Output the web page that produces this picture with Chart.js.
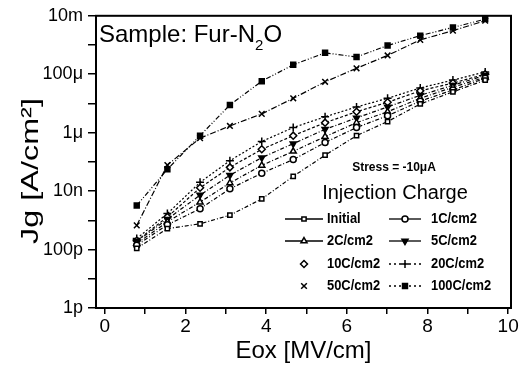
<!DOCTYPE html>
<html>
<head>
<meta charset="utf-8">
<script src="https://cdn.jsdelivr.net/npm/chart.js@4.4.0/dist/chart.umd.min.js"></script>
<style>
html, body { margin: 0; padding: 0; background: #fff; }
#wrap { width: 527px; height: 372px; position: relative; }
</style>
</head>
<body>
<div id="wrap"><canvas id="chart" width="527" height="372"></canvas></div>
<script>
// Gate current vs oxide field
const eox = [0.79, 1.55, 2.36, 3.10, 3.89, 4.67, 5.46, 6.24, 7.01, 7.82, 8.63, 9.43];

const seriesLabels = ['Initial', '1C/cm2', '2C/cm2', '5C/cm2', '10C/cm2', '20C/cm2', '50C/cm2', '100C/cm2'];

const jgInitial = [1.1e-10, 5.2e-10, 7.6e-10, 1.5e-9, 5.4e-9, 3.2e-8, 1.7e-7, 7.9e-7, 2.4e-6, 9.6e-6, 2.5e-5, 6.3e-5];
const jg1C      = [1.4e-10, 7.0e-10, 2.5e-9, 1.2e-8, 4.1e-8, 1.2e-7, 4.6e-7, 1.5e-6, 3.8e-6, 1.2e-5, 2.9e-5, 7.3e-5];
const jg2C      = [1.6e-10, 8.9e-10, 4.2e-9, 1.9e-8, 7.6e-8, 2.3e-7, 7.3e-7, 2.2e-6, 5.2e-6, 1.5e-5, 3.6e-5, 7.9e-5];
const jg5C      = [1.9e-10, 1.1e-9, 7.3e-9, 3.5e-8, 1.4e-7, 4.2e-7, 1.3e-6, 3.2e-6, 7.6e-6, 1.9e-5, 4.2e-5, 9.2e-5];
const jg10C     = [2.0e-10, 1.3e-9, 1.3e-8, 6.5e-8, 2.7e-7, 7.9e-7, 2.2e-6, 5.2e-6, 1.1e-5, 2.7e-5, 5.0e-5, 1.0e-4];
const jg20C     = [2.4e-10, 1.7e-9, 2.0e-8, 1.1e-7, 5.0e-7, 1.5e-6, 3.5e-6, 7.6e-6, 1.5e-5, 3.4e-5, 6.3e-5, 1.2e-4];
const jg50C     = [6.7e-10, 7.8e-8, 6.5e-7, 1.7e-6, 4.4e-6, 1.5e-5, 5.5e-5, 1.6e-4, 4.4e-4, 1.5e-3, 3.1e-3, 6.8e-3];
const jg100C    = [3.2e-9, 5.6e-8, 7.9e-7, 8.9e-6, 5.8e-5, 2.1e-4, 5.4e-4, 3.9e-4, 9.6e-4, 2.1e-3, 4.0e-3, 7.7e-3];

const allSeries = [jgInitial, jg1C, jg2C, jg5C, jg10C, jg20C, jg50C, jg100C];

const yTickValues = [1e-12, 1e-10, 1e-8, 1e-6, 1e-4, 1e-2];
const yTickLabels = ['1p', '100p', '10n', '1\u03bc', '100\u03bc', '10m'];
const xTickLabels = ['0', '2', '4', '6', '8', '10'];

const FONT = "'Liberation Sans', Arial, Helvetica, sans-serif";

// marker / line look of each series
const styles = [
    { pointStyle: 'rect',     rotation: 0,   fill: '#fff', radius: 3,   dash: [4, 2, 1, 2],       legendLine: 'solid' },
    { pointStyle: 'circle',   rotation: 0,   fill: '#fff', radius: 3,   dash: [4, 2, 1, 2],       legendLine: 'solid' },
    { pointStyle: 'triangle', rotation: 0,   fill: '#fff', radius: 3.5, dash: [4, 2, 1, 2],       legendLine: 'solid' },
    { pointStyle: 'triangle', rotation: 180, fill: '#000', radius: 3.5, dash: [4, 2, 1, 2],       legendLine: 'solid' },
    { pointStyle: 'rectRot',  rotation: 0,   fill: '#fff', radius: 3.5, dash: [3, 2],             legendLine: 'none' },
    { pointStyle: 'cross',    rotation: 0,   fill: '#000', radius: 4,   dash: [2, 2],             legendLine: 'dot' },
    { pointStyle: 'crossRot', rotation: 0,   fill: '#000', radius: 4,   dash: [6, 2, 1, 2],       legendLine: 'none' },
    { pointStyle: 'rect',     rotation: 0,   fill: '#000', radius: 3.5, dash: [5, 2, 1, 2, 1, 2], legendLine: 'dot' }
];

const datasets = allSeries.map((vals, i) => ({
    label: seriesLabels[i],
    data: eox.map((x, j) => ({ x: x, y: vals[j] })),
    borderColor: '#000',
    borderWidth: 1.2,
    borderDash: styles[i].dash,
    backgroundColor: styles[i].fill,
    pointStyle: styles[i].pointStyle,
    rotation: styles[i].rotation,
    pointRadius: styles[i].radius,
    pointBorderWidth: 1.5,
    pointBorderColor: '#000',
    pointBackgroundColor: styles[i].fill,
    fill: false,
    tension: 0
}));

// plot frame
const frame = {
    id: 'frame',
    afterDatasetsDraw(chart) {
        const a = chart.chartArea;
        const ctx = chart.ctx;
        ctx.save();
        ctx.strokeStyle = '#000';
        ctx.lineWidth = 2;
        ctx.strokeRect(a.left, a.top, a.right - a.left, a.bottom - a.top);
        ctx.restore();
    }
};

// title, y axis title, stress note and the 2-column legend inside the plot
const annotations = {
    id: 'annotations',
    afterDraw(chart) {
        const ctx = chart.ctx;
        ctx.save();
        ctx.fillStyle = '#000';
        ctx.strokeStyle = '#000';

        ctx.textAlign = 'left';
        ctx.textBaseline = 'alphabetic';
        ctx.font = `24px ${FONT}`;
        const head = 'Sample: Fur-N';
        ctx.fillText(head, 99, 42);
        const w1 = ctx.measureText(head).width;
        ctx.font = `15px ${FONT}`;
        ctx.fillText('2', 99 + w1, 50);
        const w2 = ctx.measureText('2').width;
        ctx.font = `24px ${FONT}`;
        ctx.fillText('O', 99 + w1 + w2, 42);

        // y axis title, the scan stretches it along its baseline
        ctx.save();
        ctx.translate(31, 171);
        ctx.rotate(-Math.PI / 2);
        ctx.scale(1.35, 1);
        ctx.textAlign = 'center';
        ctx.textBaseline = 'middle';
        ctx.font = `24px ${FONT}`;
        ctx.fillText('Jg [A/cm\u00b2]', 0, 0);
        ctx.restore();

        ctx.textAlign = 'center';
        ctx.font = `bold 12px ${FONT}`;
        ctx.fillText('Stress = -10\u03bcA', 394, 171);
        ctx.font = `20px ${FONT}`;
        ctx.fillText('Injection Charge', 395, 199);

        const rowY = [219, 241, 264, 286];
        const lineX = [[285, 323], [389, 421]];
        const markX = [304, 405];
        const textX = [327, 431];
        ctx.textAlign = 'left';
        ctx.textBaseline = 'middle';
        seriesLabels.forEach((label, i) => {
            const col = i % 2, row = Math.floor(i / 2);
            const y = rowY[row];
            const st = styles[i];
            ctx.lineWidth = 1.3;
            if (st.legendLine !== 'none') {
                ctx.setLineDash(st.legendLine === 'dot' ? [2, 3] : []);
                ctx.beginPath();
                ctx.moveTo(lineX[col][0], y);
                ctx.lineTo(lineX[col][1], y);
                ctx.stroke();
                ctx.setLineDash([]);
            }
            ctx.fillStyle = st.fill;
            ctx.lineWidth = 1.5;
            Chart.helpers.drawPoint(ctx, {
                pointStyle: st.pointStyle, rotation: st.rotation,
                radius: st.radius, borderWidth: 1.5
            }, markX[col], y);
            ctx.fillStyle = '#000';
            ctx.font = `bold 15px ${FONT}`;
            const w = ctx.measureText(label).width;
            ctx.fillText(label, textX[col], y, w * 0.86);
        });
        ctx.restore();
    }
};

new Chart(document.getElementById('chart'), {
    type: 'line',
    data: { datasets: datasets },
    options: {
        responsive: false,
        animation: false,
        layout: { padding: { top: 14, right: 16, left: 0, bottom: 0 } },
        plugins: {
            legend: { display: false },
            tooltip: { enabled: false }
        },
        scales: {
            x: {
                type: 'linear',
                min: -0.22,
                max: 10.07,
                afterFit: scale => { scale.height = 64; },
                afterBuildTicks: scale => {
                    const t = [];
                    for (let v = 0; v <= 10; v++) t.push({ value: v });
                    scale.ticks = t;
                },
                ticks: {
                    color: '#000',
                    padding: 1,
                    font: { family: FONT, size: 19 },
                    callback: v => {
                        const i = xTickLabels.indexOf(String(v));
                        return i >= 0 ? xTickLabels[i] : '';
                    }
                },
                grid: { display: true, drawOnChartArea: false, drawTicks: true, tickLength: 6, color: '#000', lineWidth: 1.5 },
                border: { display: false },
                title: {
                    display: true,
                    text: 'Eox [MV/cm]',
                    color: '#000',
                    font: { family: FONT, size: 24 },
                    padding: { top: 0, bottom: 6 }
                }
            },
            y: {
                type: 'logarithmic',
                min: 1e-12,
                max: 1e-2,
                afterFit: scale => { scale.width = 96; },
                afterBuildTicks: scale => {
                    const t = [];
                    for (let e = -12; e <= -2; e++) t.push({ value: Math.pow(10, e) });
                    scale.ticks = t;
                },
                ticks: {
                    color: '#000',
                    padding: 5,
                    font: { family: FONT, size: 18 },
                    callback: v => {
                        const i = yTickValues.findIndex(t => Math.abs(Math.log10(t) - Math.log10(v)) < 1e-6);
                        return i >= 0 ? yTickLabels[i] : '';
                    }
                },
                grid: { display: true, drawOnChartArea: false, drawTicks: true, tickLength: 8, color: '#000', lineWidth: 1.5 },
                border: { display: false },
                title: { display: false }
            }
        }
    },
    plugins: [frame, annotations]
});
</script>
</body>
</html>
